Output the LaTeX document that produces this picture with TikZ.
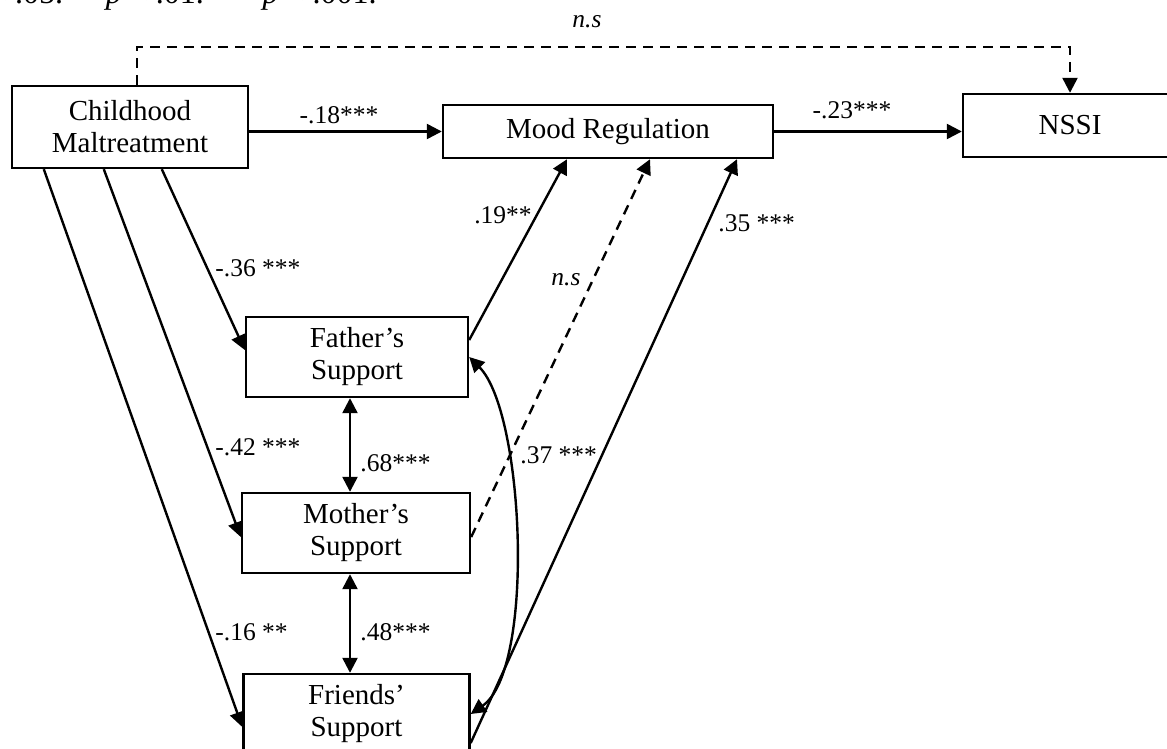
\documentclass[tikz,border=0pt]{standalone}
\usepackage{fontspec}
\setmainfont{Liberation Serif}
\usetikzlibrary{arrows.meta}
\begin{document}
\begin{tikzpicture}[x=0.5pt,y=-0.5pt,
  box/.style={draw, line width=1.2pt, rectangle, inner sep=0pt, align=center, font=\fontsize{14.5}{16}\selectfont},
  lab/.style={font=\fontsize{12.75}{14}\selectfont, inner sep=0pt},
  tip/.tip={Triangle[length=7.5pt,width=7.5pt]},
  arr/.style={line width=1.2pt, -tip},
  darr/.style={line width=1.2pt, tip-tip},
  dsh/.style={dash pattern=on 5pt off 3.5pt}]
\useasboundingbox (0,0) rectangle (1167,749);
\clip (0,0) rectangle (1167,749);
% note line (cut at top, as in the reference)
\node[anchor=base east, inner sep=0pt, font=\fontsize{16}{18}\selectfont] (note) at (377,4) {*\textit{p} < .05. **\textit{p} < .01. ***\textit{p} < .001.};
% boxes
\node[box, minimum width=118pt, minimum height=41pt] (cm) at (130,127) {Childhood\\Maltreatment};
\node[box, minimum width=165pt, minimum height=26.5pt] (mood) at (608,131.5) {Mood Regulation};
\node[box, minimum width=107pt, minimum height=31.5pt] (nssi) at (1070,125.5) {NSSI};
\node[box, minimum width=111pt, minimum height=40pt] (father) at (357,357) {Father’s\\Support};
\node[box, minimum width=114pt, minimum height=40pt] (mother) at (356,533) {Mother’s\\Support};
\node[box, minimum width=113pt, minimum height=40pt] (friends) at (356.5,714) {Friends’\\Support};
% top dashed path
\draw[arr, dsh] ([xshift=3.5pt]cm.north) -- ++(0,-38) -| (nssi.north);
\node[lab, font=\fontsize{12.75}{14}\selectfont\itshape] (ns1) at (587,22) {n.s};
% main horizontal paths
\draw[arr] (cm.east |- mood.west) -- (mood.west);
\node[lab] (l18) at (339,115) {-.18***};
\draw[arr] (mood.east) -- (mood.east -| nssi.west);
\node[lab] (l23) at (852,110) {-.23***};
% from childhood maltreatment to supports
\draw[arr] ([xshift=75.5pt]cm.south west) -- ([yshift=3.5pt]father.west);
\draw[arr] ([xshift=46.5pt]cm.south west) -- ([yshift=-2pt]mother.west);
\draw[arr] ([xshift=16.5pt]cm.south west) -- ([yshift=-6.5pt]friends.west);
\node[lab, anchor=west] (l36) at (215,268) {-.36 ***};
\node[lab, anchor=west] (l42) at (215,447) {-.42 ***};
\node[lab, anchor=west] (l16) at (215,632) {-.16 **};
% correlations between supports
\draw[darr] ([xshift=-3.5pt]father.south) -- ([xshift=-3pt]mother.north);
\node[lab, anchor=west] (l68) at (360,463) {.68***};
\draw[darr] ([xshift=-3pt]mother.south) -- ([xshift=-3.25pt]friends.north);
\node[lab, anchor=west] (l48) at (360,632) {.48***};
\draw[darr] (father.east) .. controls +(55,55) and +(65,-45) .. (friends.east);
\node[lab, anchor=west] (l37) at (520,455) {.37 ***};
% supports to mood regulation
\draw[arr] ([yshift=8.5pt]father.east) -- ([xshift=-20.5pt]mood.south);
\node[lab] (l19) at (503,215) {.19**};
\draw[arr, dsh] ([yshift=-2pt]mother.east) -- ([xshift=21pt]mood.south);
\node[lab, font=\fontsize{12.75}{14}\selectfont\itshape] (ns2) at (566,280) {n.s};
\draw[arr] ([yshift=-14.5pt]friends.east) -- ([xshift=64.5pt]mood.south);
\node[lab, anchor=west] (l35) at (718,223) {.35 ***};
\end{tikzpicture}
\end{document}
